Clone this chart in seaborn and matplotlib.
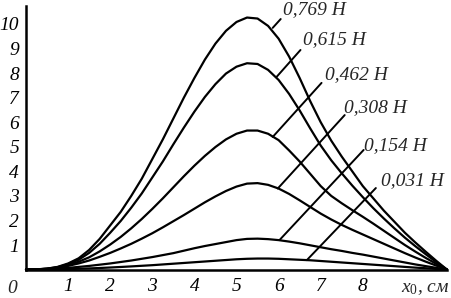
import matplotlib
matplotlib.use("Agg")
import matplotlib.pyplot as plt
import seaborn as sns
import pandas as pd

# ---- data ----
x_cm = [0, 0.25, 0.5, 0.75, 1, 1.25, 1.5, 1.75, 2, 2.25, 2.5, 2.75, 3, 3.25, 3.5, 3.75,
        4, 4.25, 4.5, 4.75, 5, 5.25, 5.5, 5.75, 6, 6.25, 6.5, 6.75, 7, 7.25, 7.5, 7.75,
        8, 8.25, 8.5, 8.75, 9, 9.25, 9.5, 9.75, 10]
f_0769 = [0, 0.01, 0.04, 0.11, 0.25, 0.46, 0.8, 1.25, 1.8, 2.35, 3.0, 3.7, 4.5, 5.3, 6.15, 7.0,
          7.8, 8.55, 9.2, 9.72, 10.08, 10.26, 10.22, 9.92, 9.4, 8.67, 7.8, 6.86, 6.0, 5.25, 4.6, 4.0,
          3.4, 2.9, 2.4, 1.95, 1.5, 1.1, 0.72, 0.35, 0]
f_0615 = [0, 0.01, 0.035, 0.1, 0.22, 0.4, 0.68, 1.05, 1.5, 1.98, 2.52, 3.1, 3.75, 4.4, 5.1, 5.78,
          6.43, 7.03, 7.55, 7.98, 8.26, 8.4, 8.37, 8.13, 7.72, 7.15, 6.48, 5.75, 5.05, 4.45, 3.92, 3.42,
          2.95, 2.5, 2.08, 1.68, 1.3, 0.95, 0.62, 0.3, 0]
f_0462 = [0, 0.01, 0.03, 0.08, 0.18, 0.32, 0.5, 0.74, 1.02, 1.33, 1.68, 2.06, 2.47, 2.9, 3.35, 3.8,
          4.23, 4.63, 4.99, 5.3, 5.53, 5.66, 5.66, 5.53, 5.27, 4.85, 4.4, 3.9, 3.4, 3.0, 2.7, 2.42,
          2.15, 1.87, 1.58, 1.29, 1.0, 0.73, 0.47, 0.23, 0]
f_0308 = [0, 0.01, 0.03, 0.07, 0.15, 0.25, 0.37, 0.52, 0.68, 0.86, 1.05, 1.26, 1.48, 1.72, 1.97, 2.22,
          2.48, 2.74, 2.98, 3.2, 3.38, 3.5, 3.52, 3.45, 3.3, 3.08, 2.82, 2.55, 2.28, 2.04, 1.82, 1.62,
          1.43, 1.24, 1.05, 0.86, 0.67, 0.49, 0.32, 0.16, 0]
f_0154 = [0, 0.005, 0.015, 0.04, 0.07, 0.11, 0.15, 0.2, 0.25, 0.31, 0.37, 0.44, 0.51, 0.59, 0.67, 0.77,
          0.87, 0.96, 1.04, 1.12, 1.2, 1.25, 1.26, 1.24, 1.2, 1.14, 1.07, 0.99, 0.91, 0.83, 0.76, 0.68,
          0.61, 0.53, 0.45, 0.37, 0.29, 0.21, 0.14, 0.07, 0]
f_0031 = [0, 0.002, 0.006, 0.013, 0.022, 0.034, 0.048, 0.065, 0.085, 0.107, 0.13, 0.155, 0.18, 0.21, 0.24, 0.27,
          0.3, 0.33, 0.36, 0.39, 0.42, 0.44, 0.45, 0.45, 0.44, 0.42, 0.4, 0.38, 0.35, 0.32, 0.29, 0.26,
          0.23, 0.2, 0.17, 0.14, 0.11, 0.08, 0.055, 0.027, 0]

series_names = ["0,769 Н", "0,615 Н", "0,462 Н", "0,308 Н", "0,154 Н", "0,031 Н"]
series_values = [f_0769, f_0615, f_0462, f_0308, f_0154, f_0031]

x_ticks = [1, 2, 3, 4, 5, 6, 7, 8, 9]
x_tick_labels = ["1", "2", "3", "4", "5", "6", "7", "8", ""]
y_ticks = [1, 2, 3, 4, 5, 6, 7, 8, 9, 10]
y_tick_labels = ["1", "2", "3", "4", "5", "6", "7", "8", "9", "10"]

# label anchor (curve point) and text positions, data coordinates
label_curve_pts = [(5.86, 9.84), (5.95, 7.84), (5.86, 5.40), (5.98, 3.3), (6.02, 1.2), (6.67, 0.385)]
label_line_ends = [(6.05, 10.2), (6.52, 8.94), (7.02, 7.6), (7.57, 6.29), (8.02, 4.87), (8.31, 3.32)]
label_text_pos = [(6.1, 10.6), (6.57, 9.35), (7.10, 7.92), (7.55, 6.58), (8.02, 5.03), (8.43, 3.61)]

rows = []
for name, vals in zip(series_names, series_values):
    for xv, yv in zip(x_cm, vals):
        rows.append({"x": xv, "y": yv, "F": name})
df = pd.DataFrame(rows)

sns.set_style("white")
plt.rcParams["font.family"] = ["Liberation Serif", "DejaVu Serif"]
plt.rcParams["mathtext.fontset"] = "custom"
plt.rcParams["mathtext.rm"] = "Liberation Serif"
plt.rcParams["mathtext.it"] = "Liberation Serif:italic"

fig = plt.figure(figsize=(4.51, 2.98), dpi=100)
ax = fig.add_axes([26 / 451, (298 - 269.6) / 298, (447 - 26) / 451, (269.6 - 6) / 298])

sns.lineplot(data=df, x="x", y="y", hue="F", palette=["black"] * 6,
             legend=False, linewidth=1.6, ax=ax, clip_on=False)

fs = 14
for (p0, p1, tp, name) in zip(label_curve_pts, label_line_ends, label_text_pos, series_names):
    ax.plot([p0[0], p1[0]], [p0[1], p1[1]], color="black", linewidth=1.4)
    ax.text(tp[0], tp[1], name, fontsize=fs, style="italic", ha="left", va="center")

ax.set_xlim(0, 10)
ax.set_ylim(0, 10.73)
for s in ["top", "right"]:
    ax.spines[s].set_visible(False)
for s in ["left", "bottom"]:
    ax.spines[s].set_linewidth(1.8)
    ax.spines[s].set_color("black")

ax.set_xticks(x_ticks)
ax.set_xticklabels(x_tick_labels, fontsize=fs, style="italic")
ax.set_yticks(y_ticks)
ax.set_yticklabels(y_tick_labels, fontsize=fs, style="italic")
ax.tick_params(axis="x", direction="in", length=4, width=1.5, pad=6, colors="black")
ax.tick_params(axis="y", direction="out", length=4, width=1.5, pad=1, colors="black")
ax.set_xlabel("")
ax.set_ylabel("")

ax.text(-0.33, -0.42, "0", fontsize=fs, style="italic", ha="center", va="top",
        transform=ax.transData)
ax.text(8.9, -0.42, "$x_0$, см", fontsize=fs, style="italic", ha="left", va="top",
        transform=ax.transData)

fig.savefig("out.png", dpi=100)
